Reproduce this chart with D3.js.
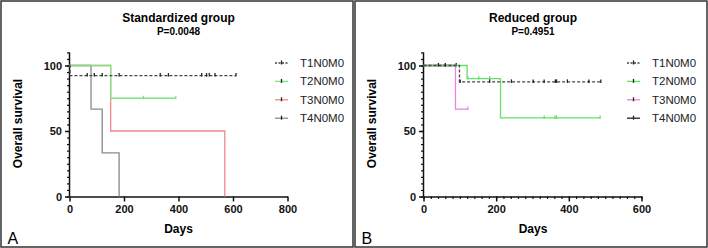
<!DOCTYPE html>
<html>
<head>
<meta charset="utf-8">
<script src="https://cdn.jsdelivr.net/npm/d3@7"></script>
<style>
  body { margin: 0; background: #fff; }
  svg { display: block; font-family: "Liberation Sans", Arial, sans-serif; }
  .tick text { font-weight: bold; font-size: 11px; fill: #111; }
</style>
</head>
<body>
<div id="chart"></div>
<script>
// series names (legend)
const seriesNames = ["T1N0M0", "T2N0M0", "T3N0M0", "T4N0M0"];

// Standardized group - [day, survival %] change points, last point = end of follow-up
const stdT1 = [[0, 100], [2, 92.3], [611, 92.3]];
const stdT2 = [[0, 100], [151, 75], [390, 75]];
const stdT3 = [[0, 100], [151, 50], [570, 0]];
const stdT4 = [[0, 100], [79, 66.7], [120, 33.3], [182, 0]];
// censored days
const stdT1Cens = [65, 91, 120, 182, 333, 363, 485, 503, 513, 534, 611];
const stdT2Cens = [271, 390];
const stdT3Cens = [];
const stdT4Cens = [];

// Reduced group
const redT1 = [[0, 100], [99, 87.5], [488, 87.5]];
const redT2 = [[0, 100], [120, 90], [212, 60], [486, 60]];
const redT3 = [[0, 100], [88, 66.7], [122, 66.7]];
const redT4 = [[0, 100], [90, 100]];
const redT1Cens = [41, 60, 101, 182, 242, 302, 332, 363, 366, 396, 455, 488];
const redT2Cens = [122, 152, 182, 332, 362, 366, 486];
const redT3Cens = [122];
const redT4Cens = [90];

const xTicksStd = [0, 200, 400, 600, 800];
const xTicksRed = [0, 200, 400, 600];
const yTicks = [0, 50, 100];

const W = 708, H = 248;
const svg = d3.select("#chart").append("svg").attr("width", W).attr("height", H);

function survAt(steps, t) {
    let s = steps[0][1];
    steps.forEach(p => { if (p[0] <= t) s = p[1]; });
    return s;
}

function drawPanel(opts) {
    const g = svg.append("g").attr("transform", `translate(${opts.ox},0)`);

    g.append("rect")
        .attr("x", 1).attr("y", 1).attr("width", 352).attr("height", 246)
        .attr("fill", "none").attr("stroke", "#333").attr("stroke-width", 1.5);

    let x = d3.scaleLinear().domain([0, opts.xMax]).range([69.5, opts.xEnd]);
    let y = d3.scaleLinear().domain([0, 100]).range([196.5, 65.5]);

    // minor ticks
    g.append("g").attr("transform", "translate(69.5,0)")
        .call(d3.axisLeft(y).tickValues(d3.range(0, 111, 5)).tickSize(2.5).tickFormat(""))
        .call(a => a.select(".domain").remove())
        .selectAll("line").attr("stroke", "#111").attr("stroke-width", 1.2);
    if (opts.xMinor) {
        g.append("g").attr("transform", "translate(0,196.5)")
            .call(d3.axisBottom(x).tickValues(d3.range(0, opts.xMax + 1, opts.xMinor)).tickSize(2.5).tickFormat(""))
            .call(a => a.select(".domain").remove())
            .selectAll("line").attr("stroke", "#111").attr("stroke-width", 1.2);
    }

    let yAxis = g.append("g").attr("transform", "translate(69.5,0)")
        .call(d3.axisLeft(y).tickValues(yTicks).tickSize(4.5).tickPadding(3).tickSizeOuter(0));
    yAxis.select(".domain").attr("d", `M0,${y(110)}V${y(0)}`);
    let xAxis = g.append("g").attr("transform", "translate(0,196.5)")
        .call(d3.axisBottom(x).tickValues(opts.xTicks).tickSize(5).tickPadding(4).tickSizeOuter(0));
    [yAxis, xAxis].forEach(a => {
        a.select(".domain").attr("stroke", "#111").attr("stroke-width", 1.5);
        a.selectAll(".tick line").attr("stroke", "#111").attr("stroke-width", 1.5);
    });

    // titles
    g.append("text").attr("x", opts.cx).attr("y", 21.5).attr("text-anchor", "middle")
        .attr("font-weight", "bold").attr("font-size", 12).text(opts.title);
    g.append("text").attr("x", opts.cx).attr("y", 34.5).attr("text-anchor", "middle")
        .attr("font-weight", "bold").attr("font-size", 10).text(opts.p);
    g.append("text").attr("x", opts.cx).attr("y", 233).attr("text-anchor", "middle")
        .attr("font-weight", "bold").attr("font-size", 12).text("Days");
    g.append("text").attr("transform", "translate(22,123.5) rotate(-90)").attr("text-anchor", "middle")
        .attr("font-weight", "bold").attr("font-size", 12).text("Overall survival");
    g.append("text").attr("x", 7.5).attr("y", 244).attr("font-size", 16).text(opts.letter);

    let line = d3.line().x(d => x(d[0])).y(d => y(d[1])).curve(d3.curveStepAfter);

    // draw T4 first, T1 last (on top)
    for (let i = 3; i >= 0; i--) {
        let col = opts.colors[i];
        g.append("path").datum(opts.steps[i])
            .attr("d", line).attr("fill", "none").attr("stroke", col)
            .attr("stroke-width", 1.3)
            .attr("stroke-dasharray", i === 0 ? "3,2" : null);
        g.selectAll(null).data(opts.cens[i]).join("line")
            .attr("x1", d => x(d)).attr("x2", d => x(d))
            .attr("y1", d => y(survAt(opts.steps[i], d)) - 2.5)
            .attr("y2", d => y(survAt(opts.steps[i], d)) + 1)
            .attr("stroke", i === 0 ? "#222" : col).attr("stroke-width", 1.3);
    }

    // legend
    let leg = g.selectAll(".leg").data(seriesNames).join("g")
        .attr("transform", (d, i) => `translate(${opts.lx},${63 + i * 18.4})`);
    leg.append("line").attr("x1", 0).attr("x2", 13).attr("stroke", (d, i) => opts.colors[i])
        .attr("stroke-width", 1.3).attr("stroke-dasharray", (d, i) => i === 0 ? "2,1.5" : null);
    leg.append("line").attr("x1", 6.5).attr("x2", 6.5).attr("y1", -2.5).attr("y2", 1.5)
        .attr("stroke", "#222").attr("stroke-width", 1.3);
    leg.append("text").attr("x", 25).attr("y", 4).attr("font-size", 11.5).attr("fill", "#222").text(d => d);
}

drawPanel({
    ox: 0, xMax: 800, xEnd: 287.5, xTicks: xTicksStd, xMinor: null,
    title: "Standardized group", p: "P=0.0048", letter: "A", cx: 178.5, lx: 275,
    steps: [stdT1, stdT2, stdT3, stdT4],
    cens: [stdT1Cens, stdT2Cens, stdT3Cens, stdT4Cens],
    colors: ["#444", "#7ee57e", "#f28888", "#8a8a8a"]
});

drawPanel({
    ox: 354, xMax: 600, xEnd: 287.5, xTicks: xTicksRed, xMinor: 20,
    title: "Reduced group", p: "P=0.4951", letter: "B", cx: 179, lx: 273,
    steps: [redT1, redT2, redT3, redT4],
    cens: [redT1Cens, redT2Cens, redT3Cens, redT4Cens],
    colors: ["#444", "#66e066", "#ee80e6", "#222"]
});
</script>
</body>
</html>
